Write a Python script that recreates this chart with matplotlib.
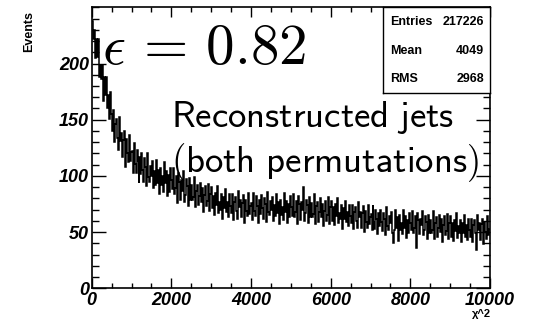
import numpy as np
import matplotlib
matplotlib.use("Agg")
import matplotlib.pyplot as plt
from matplotlib.ticker import MultipleLocator

# ---- data ----
x_min, x_max = 0, 10000
counts = [
    238, 222, 230, 205, 222, 206, 222, 188, 199, 186, 199, 167, 188, 172, 188, 160, 172, 151, 175, 155,
    140, 159, 130, 146, 151, 134, 123, 152, 131, 138, 117, 132, 140, 108, 133, 120, 112, 136, 113, 121,
    122, 103, 129, 111, 103, 123, 113, 94, 117, 102, 120, 105, 95, 116, 108, 91, 120, 99, 95, 109,
    100, 113, 89, 104, 92, 114, 94, 105, 84, 107, 92, 100, 86, 112, 94, 104, 82, 101, 86, 107,
    96, 88, 107, 84, 89, 100, 76, 103, 95, 79, 96, 87, 104, 77, 83, 97, 91, 73, 98, 79,
    92, 79, 81, 99, 72, 87, 92, 74, 82, 94, 77, 89, 68, 83, 91, 73, 78, 93, 69, 84,
    90, 71, 82, 65, 85, 74, 91, 67, 77, 70, 84, 62, 81, 71, 88, 68, 77, 63, 84, 73,
    67, 84, 61, 77, 81, 69, 62, 87, 72, 79, 63, 76, 83, 58, 79, 69, 64, 85, 66, 73,
    76, 61, 85, 69, 64, 82, 73, 58, 79, 66, 83, 71, 62, 80, 75, 59, 86, 68, 65, 78,
    70, 81, 60, 74, 64, 84, 67, 77, 57, 79, 65, 72, 61, 85, 68, 78, 58, 75, 63, 82,
    72, 64, 84, 63, 68, 78, 57, 82, 75, 61, 77, 70, 90, 60, 67, 79, 74, 58, 81, 63,
    76, 63, 66, 84, 57, 73, 77, 59, 68, 80, 63, 75, 55, 69, 78, 60, 65, 81, 57, 72,
    78, 60, 72, 56, 75, 64, 80, 58, 67, 62, 74, 53, 71, 62, 78, 59, 68, 55, 74, 64,
    58, 74, 53, 68, 72, 60, 54, 77, 63, 68, 54, 67, 73, 50, 69, 59, 54, 74, 57, 63,
    66, 52, 74, 59, 53, 70, 62, 48, 67, 55, 70, 59, 51, 67, 62, 47, 72, 55, 52, 64,
    58, 68, 49, 40, 52, 70, 54, 63, 42, 65, 52, 58, 48, 70, 54, 64, 45, 61, 49, 67,
    58, 52, 69, 49, 54, 64, 36, 67, 61, 48, 62, 56, 69, 47, 52, 64, 59, 44, 65, 49,
    61, 49, 52, 69, 44, 58, 63, 46, 54, 65, 50, 62, 41, 56, 64, 47, 51, 66, 44, 58,
    64, 46, 58, 42, 61, 51, 67, 45, 55, 49, 61, 41, 58, 49, 65, 46, 56, 43, 62, 52,
    46, 62, 41, 56, 61, 49, 34, 65, 52, 58, 43, 57, 62, 39, 59, 50, 44, 64, 47, 53,
]
x_ticks = [0, 2000, 4000, 6000, 8000, 10000]
y_ticks = [0, 50, 100, 150, 200]
stat_names = ["Entries", "Mean", "RMS"]
stat_values = ["217226", "4049", "2968"]
eff_label = r"$\epsilon\,{=}\,0.82$"
title_lines = [r"$\mathsf{Reconstructed\ jets}$", r"$\mathsf{(both\ permutations)}$"]
x_title = "\u03c7^2"
y_title = "Events"

# ---- figure ----
W, H = 535, 331
plt.rcParams["mathtext.fontset"] = "cm"
fig = plt.figure(figsize=(W / 100, H / 100), dpi=100)
fig.patch.set_facecolor("white")

def px(x, y):
    return x / W, 1 - y / H

l, r, t, b = 91.7, 490, 7.3, 288.3
ax = fig.add_axes([l / W, 1 - b / H, (r - l) / W, (b - t) / H])

edges = np.linspace(x_min, x_max, len(counts) + 1)
ax.stairs(counts, edges, color="black", lw=1.1, baseline=None)

ax.set_xlim(x_min, x_max)
ax.set_ylim(0, 250)
for s in ax.spines.values():
    s.set_linewidth(1.2)

ax.set_xticks(x_ticks)
ax.set_yticks(y_ticks)
ax.xaxis.set_minor_locator(MultipleLocator(500))
ax.yaxis.set_minor_locator(MultipleLocator(10))
ax.tick_params(which="both", direction="in", top=True, right=True, width=1.0, color="black")
ax.tick_params(axis="x", which="major", length=7)
ax.tick_params(axis="x", which="minor", length=3.5)
ax.tick_params(axis="y", which="major", length=10)
ax.tick_params(axis="y", which="minor", length=5)
ax.tick_params(axis="x", which="major", pad=2.5)
ax.tick_params(axis="y", which="major", pad=2)
tick_font = dict(family="Liberation Sans", weight="bold", style="italic", size=13)
ax.set_xticklabels([str(v) for v in x_ticks], fontdict=tick_font)
ax.set_yticklabels([str(v) for v in y_ticks], fontdict=tick_font)

# axis titles
fig.text(*px(29, 31), y_title, rotation=90, ha="center", va="center",
         family="Liberation Sans", weight="bold", size=9)
fig.text(*px(491, 314), x_title, ha="right", va="center",
         family="Liberation Sans", weight="bold", size=8)

# stats box
bx0, bx1, by0, by1 = 383, 490, 7.3, 93
ax_box = fig.add_axes([bx0 / W, 1 - by1 / H, (bx1 - bx0) / W, (by1 - by0) / H])
ax_box.set_xticks([]); ax_box.set_yticks([])
ax_box.set_facecolor("white")
for s in ax_box.spines.values():
    s.set_linewidth(1.0)
row_y = [22, 51, 79]
for name, val, yy in zip(stat_names, stat_values, row_y):
    fig.text(*px(390, yy), name, ha="left", va="center",
             family="Liberation Sans", weight="bold", size=9)
    fig.text(*px(484, yy), val, ha="right", va="center",
             family="Liberation Sans", weight="bold", size=9)

# annotations
fig.text(*px(102, 64), eff_label, ha="left", va="baseline", size=41)
fig.text(*px(171, 127), title_lines[0], ha="left", va="baseline", size=26.5)
fig.text(*px(171, 172), title_lines[1], ha="left", va="baseline", size=26.5)

fig.savefig("out.png", dpi=100, facecolor="white")
